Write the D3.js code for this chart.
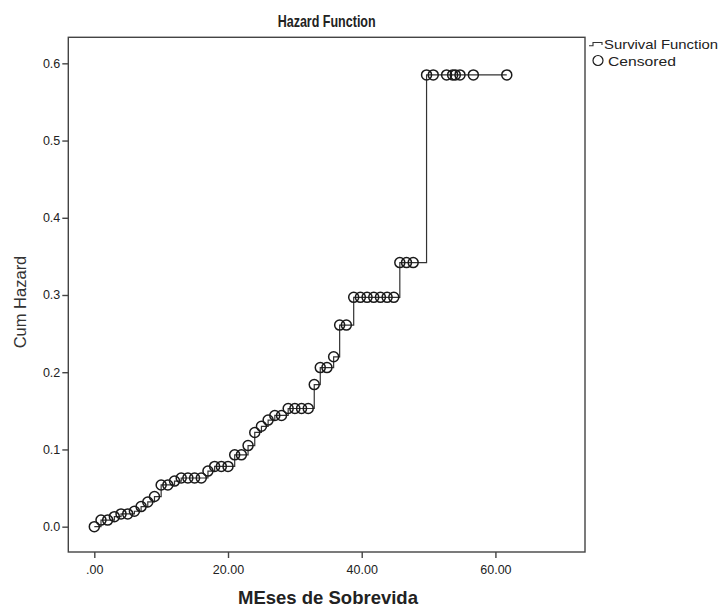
<!DOCTYPE html>
<html>
<head>
<meta charset="utf-8">
<script src="https://cdn.jsdelivr.net/npm/d3@7"></script>
<style>
  html, body { margin: 0; padding: 0; background: #fff; }
  svg { display: block; font-family: "Liberation Sans", Arial, sans-serif; }
</style>
</head>
<body>
<svg id="chart" width="722" height="610"></svg>
<script>
// Cumulative hazard step function: the value jumps at each event time
const eventTimes = [0, 1, 3, 4, 6, 7, 8, 9, 10, 12, 13, 17, 18, 21, 23, 24, 25, 26, 27, 29,
                    32.9, 33.8, 35.8, 36.7, 38.8, 45.7, 49.7];
const cumHazard  = [0, 0.0085, 0.013, 0.0165, 0.020, 0.026, 0.032, 0.039, 0.054, 0.059, 0.063,
                    0.072, 0.078, 0.093, 0.105, 0.122, 0.130, 0.138, 0.144, 0.153,
                    0.184, 0.206, 0.220, 0.261, 0.297, 0.342, 0.585];
const lastTime = 61.7;

// Censored observation times (months)
const censoredTimes = [0, 1, 2, 3, 4, 5, 6, 7, 8, 9, 10, 11, 12, 13, 14, 15, 16, 17, 18, 19, 20,
                       21, 22, 23, 24, 25, 26, 27, 28, 29, 30, 31, 32,
                       32.9, 33.8, 34.8, 35.8, 36.7, 37.7,
                       38.8, 39.8, 40.8, 41.8, 42.8, 43.8, 44.8,
                       45.7, 46.7, 47.7,
                       49.7, 50.7, 52.7, 53.6, 54.0, 54.7, 56.7, 61.7];

const yTicks = [0, 0.1, 0.2, 0.3, 0.4, 0.5, 0.6];
const xTicks = [0, 20, 40, 60];

const svg = d3.select("#chart");
const frame = { left: 68.3, right: 585, top: 37.3, bottom: 552 };

const x = d3.scaleLinear().domain([-3.89, 73.4]).range([frame.left, frame.right]);
const y = d3.scaleLinear().domain([-0.0328, 0.6337]).range([frame.bottom, frame.top]);

const ink = "#222";

// Plot frame
svg.append("rect")
  .attr("x", frame.left).attr("y", frame.top)
  .attr("width", frame.right - frame.left).attr("height", frame.bottom - frame.top)
  .attr("fill", "none").attr("stroke", "#444").attr("stroke-width", 1.4);

// Y axis
const yAxis = svg.append("g")
  .attr("transform", `translate(${frame.left},0)`)
  .call(d3.axisLeft(y).tickValues(yTicks).tickFormat(d3.format(".1f")).tickSize(6).tickPadding(2));
yAxis.select(".domain").remove();
yAxis.selectAll(".tick line").attr("stroke", "#444").attr("stroke-width", 1.4);
yAxis.selectAll(".tick text").attr("fill", ink).attr("font-size", 12.5)
  .attr("font-family", "'Liberation Sans', Arial, sans-serif");

// X axis
const xAxis = svg.append("g")
  .attr("transform", `translate(0,${frame.bottom})`)
  .call(d3.axisBottom(x).tickValues(xTicks)
    .tickFormat(d => d === 0 ? ".00" : d3.format(".2f")(d)).tickSize(6).tickPadding(7));
xAxis.select(".domain").remove();
xAxis.selectAll(".tick line").attr("stroke", "#444").attr("stroke-width", 1.4);
xAxis.selectAll(".tick text").attr("fill", ink).attr("font-size", 12.5)
  .attr("font-family", "'Liberation Sans', Arial, sans-serif");

// Titles
svg.append("text")
  .attr("x", (frame.left + frame.right) / 2).attr("y", 27)
  .attr("text-anchor", "middle").attr("font-size", 17).attr("font-weight", "bold")
  .attr("textLength", 98).attr("lengthAdjust", "spacingAndGlyphs")
  .attr("fill", ink).text("Hazard Function");

svg.append("text")
  .attr("x", 328).attr("y", 604)
  .attr("text-anchor", "middle").attr("font-size", 18.5).attr("font-weight", "bold")
  .attr("fill", ink).text("MEses de Sobrevida");

svg.append("text")
  .attr("transform", `translate(26,302) rotate(-90)`)
  .attr("text-anchor", "middle").attr("font-size", 16.5)
  .attr("fill", "#333").text("Cum Hazard");

// Step line
const stepData = eventTimes.map((t, i) => [t, cumHazard[i]]);
stepData.push([lastTime, cumHazard[cumHazard.length - 1]]);

const plot = svg.append("g");
plot.append("path")
  .datum(stepData)
  .attr("fill", "none").attr("stroke", "#333").attr("stroke-width", 1.2)
  .attr("d", d3.line().x(d => x(d[0])).y(d => y(d[1])).curve(d3.curveStepAfter));

// Censored markers sit on the step function at their time
const bisect = d3.bisector(t => t).right;
const hazardAt = t => cumHazard[Math.max(0, bisect(eventTimes, t + 1e-9) - 1)];

plot.selectAll("circle.cens")
  .data(censoredTimes)
  .join("circle")
  .attr("class", "cens")
  .attr("cx", d => x(d)).attr("cy", d => y(hazardAt(d)))
  .attr("r", 5)
  .attr("fill", "none").attr("stroke", "#1a1a1a").attr("stroke-width", 1.5);

// Legend
const lg = svg.append("g");
lg.append("path")
  .attr("d", "M589,45.7 H593 V42.5 H602 V45")
  .attr("fill", "none").attr("stroke", "#333").attr("stroke-width", 1.1);
lg.append("text").attr("x", 604).attr("y", 49)
  .attr("font-size", 13.5).attr("fill", ink)
  .attr("textLength", 114).attr("lengthAdjust", "spacingAndGlyphs")
  .text("Survival Function");
lg.append("circle").attr("cx", 598).attr("cy", 60.5).attr("r", 5)
  .attr("fill", "none").attr("stroke", "#1a1a1a").attr("stroke-width", 1.2);
lg.append("text").attr("x", 608).attr("y", 65.5)
  .attr("font-size", 13.5).attr("fill", ink)
  .attr("textLength", 68).attr("lengthAdjust", "spacingAndGlyphs")
  .text("Censored");
</script>
</body>
</html>
